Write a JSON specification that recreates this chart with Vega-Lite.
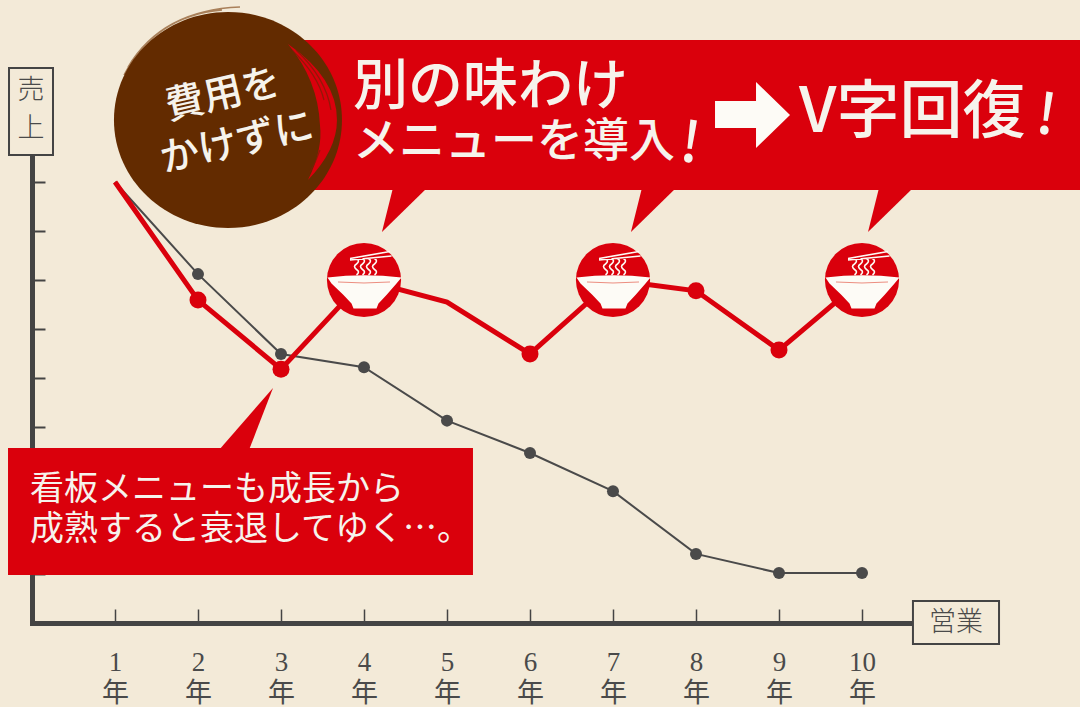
{
  "$schema": "https://vega.github.io/schema/vega-lite/v6.json",
  "width": 881,
  "height": 468,
  "autosize": "none",
  "padding": {"left": 32, "top": 155, "right": 167, "bottom": 84},
  "background": "#f3ead8",
  "view": {"stroke": null},
  "datasets": {
    "declining": [
      {"year": 1, "sales": 9.0},
      {"year": 2, "sales": 7.12},
      {"year": 3, "sales": 5.49},
      {"year": 4, "sales": 5.22},
      {"year": 5, "sales": 4.13},
      {"year": 6, "sales": 3.47},
      {"year": 7, "sales": 2.69},
      {"year": 8, "sales": 1.41},
      {"year": 9, "sales": 1.02},
      {"year": 10, "sales": 1.02}
    ],
    "recovering": [
      {"year": 1, "sales": 9.0},
      {"year": 2, "sales": 6.59},
      {"year": 3, "sales": 5.18},
      {"year": 4, "sales": 7.0},
      {"year": 5, "sales": 6.55},
      {"year": 6, "sales": 5.49},
      {"year": 7, "sales": 7.0},
      {"year": 8, "sales": 6.78},
      {"year": 9, "sales": 5.57},
      {"year": 10, "sales": 7.0}
    ],
    "launches": [
      {"year": 4, "sales": 7.0},
      {"year": 7, "sales": 7.0},
      {"year": 10, "sales": 7.0}
    ]
  },
  "encoding": {
    "x": {
      "field": "year",
      "type": "quantitative",
      "scale": {"domain": [0, 10.6145], "nice": false, "zero": false},
      "axis": {
        "title": null,
        "values": [1, 2, 3, 4, 5, 6, 7, 8, 9, 10],
        "grid": false,
        "domainColor": "#444444",
        "domainWidth": 5,
        "domainCap": "square",
        "tickColor": "#444444",
        "tickWidth": 1.5,
        "tickSize": -14,
        "labelPadding": 61,
        "labelFont": "Liberation Serif, Noto Sans CJK JP",
        "labelFontSize": 27,
        "labelLineHeight": 31,
        "labelColor": "#4a4a4a",
        "labelBaseline": "alphabetic",
        "labelFlush": false,
        "labelOverlap": false,
        "labelExpr": "[datum.label, '年']"
      }
    },
    "y": {
      "field": "sales",
      "type": "quantitative",
      "scale": {"domain": [0, 9.551], "nice": false, "zero": false},
      "axis": {
        "title": null,
        "values": [1, 2, 3, 4, 5, 6, 7, 8, 9],
        "grid": false,
        "labels": false,
        "domainColor": "#444444",
        "domainWidth": 5,
        "tickColor": "#444444",
        "tickWidth": 2,
        "tickSize": -13
      }
    }
  },
  "layer": [
    {
      "data": {"name": "declining"},
      "mark": {"type": "line", "color": "#4a4a4a", "strokeWidth": 2}
    },
    {
      "data": {"name": "declining"},
      "transform": [{"filter": "datum.year > 1"}],
      "mark": {"type": "point", "filled": true, "color": "#4a4a4a", "size": 144, "opacity": 1}
    },
    {
      "data": {"name": "recovering"},
      "mark": {"type": "line", "color": "#da000c", "strokeWidth": 5}
    },
    {
      "description": "Dots on the red line, skipping the start and the bend at year five",
      "data": {"name": "recovering"},
      "transform": [{"filter": "datum.year > 1 && datum.year != 5"}],
      "mark": {"type": "point", "filled": true, "color": "#da000c", "size": 289, "opacity": 1}
    },
    {
      "description": "Red disc behind each bowl icon",
      "data": {"name": "launches"},
      "mark": {"type": "point", "filled": true, "color": "#da000c", "size": 5500, "opacity": 1}
    },
    {
      "description": "Bowl body",
      "data": {"name": "launches"},
      "mark": {
        "type": "point", "filled": true, "color": "#fdfbf6", "size": 10000, "opacity": 1,
        "shape": "M-0.73 -0.05Q0 -0.14 0.75 -0.05L0.65 0.07L0.45 0.3L0.29 0.47L0.25 0.57L-0.21 0.57L-0.25 0.47L-0.41 0.3L-0.65 0.07Z"
      }
    },
    {
      "description": "Soup line inside the bowl",
      "data": {"name": "launches"},
      "mark": {
        "type": "point", "filled": false, "stroke": "#ec8d80", "strokeWidth": 1, "size": 10000, "opacity": 1,
        "shape": "M-0.52 0.04Q0 0.08 0.52 0.04"
      }
    },
    {
      "description": "Noodles and chopsticks",
      "data": {"name": "launches"},
      "mark": {
        "type": "point", "filled": false, "stroke": "#fdfbf6", "strokeWidth": 1.6, "size": 10000, "opacity": 1,
        "shape": "M-0.15 -0.43Q-0.07 -0.38 -0.15 -0.32Q-0.23 -0.27 -0.15 -0.21Q-0.07 -0.16 -0.15 -0.1M-0.03 -0.43Q0.05 -0.38 -0.03 -0.32Q-0.11 -0.27 -0.03 -0.21Q0.05 -0.16 -0.03 -0.1M0.09 -0.43Q0.17 -0.38 0.09 -0.32Q0.01 -0.27 0.09 -0.21Q0.17 -0.16 0.09 -0.1M0.21 -0.43Q0.29 -0.38 0.21 -0.32Q0.13 -0.27 0.21 -0.21Q0.29 -0.16 0.21 -0.1M-0.28 -0.43L0.52 -0.57M-0.28 -0.4L0.55 -0.48"
      }
    },
    {
      "description": "Headline banner and the note box",
      "data": {"values": [
        {"year": 3.229, "year2": 12.7, "sales": 11.898, "sales2": 8.837},
        {"year": -0.289, "year2": 5.313, "sales": 3.571, "sales2": 0.98}
      ]},
      "mark": {"type": "rect", "color": "#da000c"},
      "encoding": {
        "x2": {"field": "year2"},
        "y2": {"field": "sales2"}
      }
    },
    {
      "description": "Banner tails pointing at the launch years",
      "data": {"values": [
        {"year": 4.349, "sales": 8.837},
        {"year": 7.349, "sales": 8.837},
        {"year": 10.205, "sales": 8.837}
      ]},
      "mark": {
        "type": "point", "filled": true, "color": "#da000c", "size": 10000, "opacity": 1,
        "shape": "M0 -0.04L0.68 -0.04L-0.22 0.84Z"
      }
    },
    {
      "description": "Note box tail pointing at the third year",
      "data": {"values": [{"year": 2.253, "sales": 3.571}]},
      "mark": {
        "type": "point", "filled": true, "color": "#da000c", "size": 10000, "opacity": 1,
        "shape": "M0 0.04L0.6 0.04L1.08 -1.2Z"
      }
    },
    {
      "description": "Dry brush strokes at the top left of the disc",
      "data": {"values": [{"year": 2.229, "sales": 10.265}]},
      "mark": {
        "type": "point", "filled": false, "stroke": "#a9805a", "strokeWidth": 1.5, "size": 40000, "opacity": 1,
        "shape": "M-0.89 -0.53Q-0.55 -1.1 0.23 -1.13M-0.93 -0.45Q-0.62 -1.04 0.05 -1.1"
      }
    },
    {
      "description": "Brown ink disc",
      "data": {"values": [{"year": 2.361, "sales": 10.265}]},
      "mark": {
        "type": "point", "filled": true, "color": "#632b00", "size": 40000, "opacity": 1,
        "shape": "M-1.14 0A1.14 1.08 0 1 1 1.14 0A1.14 1.08 0 1 1 -1.14 0Z"
      }
    },
    {
      "description": "Red gap the brush left near the disc's right edge",
      "data": {"values": [{"year": 2.361, "sales": 10.265}]},
      "mark": {
        "type": "point", "filled": true, "color": "#da000c", "size": 40000, "opacity": 1,
        "shape": "M0.6 -0.76Q1.09 -0.42 1.09 0Q1.09 0.3 0.8 0.6Q0.95 0.3 0.92 0.05Q0.9 -0.4 0.6 -0.76Z"
      }
    },
    {
      "description": "Fine brush streaks across that gap",
      "data": {"values": [{"year": 2.361, "sales": 10.265}]},
      "mark": {
        "type": "point", "filled": false, "stroke": "#7a2006", "strokeWidth": 1.2, "size": 40000, "opacity": 0.75,
        "shape": "M0.68 -0.7Q0.98 -0.42 1.03 -0.1M0.64 -0.7Q0.9 -0.45 0.96 -0.2M0.92 0.3Q0.88 0.42 0.82 0.52"
      }
    },
    {
      "description": "Headline arrow",
      "data": {"values": [{"year": 8.675, "sales": 10.367}]},
      "mark": {
        "type": "point", "filled": true, "color": "#fdfbf6", "size": 10000, "opacity": 1,
        "shape": "M-0.74 -0.28L0.08 -0.28L0.08 -0.66L0.76 0L0.08 0.66L0.08 0.26L-0.74 0.26Z"
      }
    },
    {
      "data": {"values": [
        {"year": -0.277, "year2": 0.253, "sales": 11.327, "sales2": 9.551},
        {"year": 10.614, "year2": 11.651, "sales": 0.449, "sales2": -0.429}
      ]},
      "mark": {"type": "rect", "fill": "#f3ead8", "stroke": "#444444", "strokeWidth": 2},
      "encoding": {
        "x2": {"field": "year2"},
        "y2": {"field": "sales2"}
      }
    },
    {
      "description": "Axis names",
      "data": {"values": [
        {"year": -0.012, "sales": 10.857, "label": "売"},
        {"year": -0.012, "sales": 10.082, "label": "上"},
        {"year": 11.133, "sales": 0, "label": "営業"}
      ]},
      "mark": {"type": "text", "font": "Noto Sans CJK JP", "fontSize": 27, "fontWeight": 300, "color": "#4a4a4a", "align": "center", "baseline": "middle"},
      "encoding": {"text": {"field": "label"}}
    },
    {
      "description": "Text on the ink disc",
      "data": {"values": [
        {"year": 2.301, "sales": 10.776, "label": "費用を"},
        {"year": 2.47, "sales": 9.796, "label": "かけずに"}
      ]},
      "mark": {"type": "text", "font": "Noto Sans CJK JP", "fontSize": 39, "fontWeight": 500, "color": "#f6f3ec", "align": "center", "baseline": "middle", "angle": 347},
      "encoding": {"text": {"field": "label"}}
    },
    {
      "data": {"values": [{"year": 3.867, "sales": 10.939, "label": "別の味わけ"}]},
      "mark": {"type": "text", "font": "Noto Sans CJK JP", "fontSize": 55, "fontWeight": 500, "color": "#f6f3ec", "align": "left", "baseline": "middle"},
      "encoding": {"text": {"field": "label"}}
    },
    {
      "data": {"values": [{"year": 3.867, "sales": 9.816, "label": "メニューを導入"}]},
      "mark": {"type": "text", "font": "Noto Sans CJK JP", "fontSize": 46, "fontWeight": 500, "color": "#f6f3ec", "align": "left", "baseline": "middle"},
      "encoding": {"text": {"field": "label"}}
    },
    {
      "data": {"values": [{"year": 9.241, "sales": 10.408, "label": "V字回復"}]},
      "mark": {"type": "text", "font": "Noto Sans CJK JP", "fontSize": 63, "fontWeight": 500, "color": "#f6f3ec", "align": "left", "baseline": "middle"},
      "encoding": {"text": {"field": "label"}}
    },
    {
      "description": "Slanted exclamation marks",
      "data": {"values": [
        {"year": 7.928, "sales": 9.755, "label": "!"},
        {"year": 12.217, "sales": 10.327, "label": "!"}
      ]},
      "mark": {"type": "text", "font": "Noto Sans CJK JP", "fontSize": 56, "fontWeight": 500, "color": "#f6f3ec", "align": "center", "baseline": "middle", "angle": 8},
      "encoding": {"text": {"field": "label"}}
    },
    {
      "description": "Note box text",
      "data": {"values": [
        {"year": -0.024, "sales": 2.714, "label": "看板メニューも成長から"},
        {"year": -0.024, "sales": 1.898, "label": "成熟すると衰退してゆく…。"}
      ]},
      "mark": {"type": "text", "font": "Noto Sans CJK JP", "fontSize": 34, "fontWeight": 400, "color": "#f6f3ec", "align": "left", "baseline": "middle"},
      "encoding": {"text": {"field": "label"}}
    }
  ]
}
